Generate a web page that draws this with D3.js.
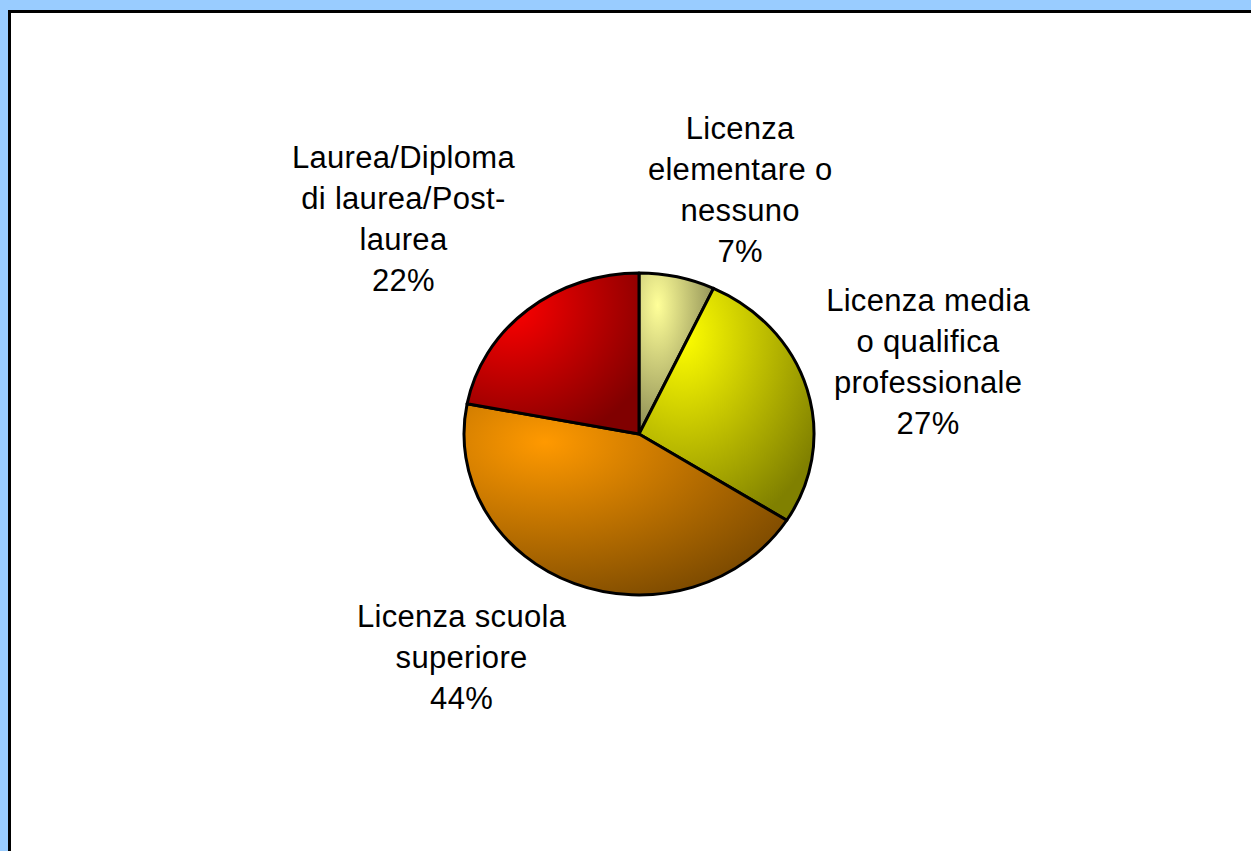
<!DOCTYPE html>
<html>
<head>
<meta charset="utf-8">
<script src="https://cdn.jsdelivr.net/npm/d3@7"></script>
<style>
  body { margin: 0; background: #99ccff; overflow: hidden; }
</style>
</head>
<body>
<div id="chart"></div>
<script>
// slices, clockwise from 12 o'clock
var categories = ['Licenza elementare o nessuno', 'Licenza media o qualifica professionale',
                  'Licenza scuola superiore', 'Laurea/Diploma di laurea/Post-laurea'];
var values = [7, 27, 44, 22];
var labelLines = [
    ['Licenza', 'elementare o', 'nessuno'],
    ['Licenza media', 'o qualifica', 'professionale'],
    ['Licenza scuola', 'superiore'],
    ['Laurea/Diploma', 'di laurea/Post-', 'laurea']
];
var lightColours = ['#ffff99', '#ffff00', '#ff9900', '#ff0000'];
var darkColours  = ['#80804c', '#808000', '#7c4a00', '#800000'];

var width = 1251, height = 851;
var cx = 639, cy = 434, rx = 175, ry = 161;
var lineH = 41;
// hand placed offsets of the labels from the slice edge (excel "best fit")
var labelNudge = [[63, -76], [121, -17], [-113, 84], [-124, -80]];

var svg = d3.select("#chart")
    .append("svg")
    .attr("width", width)
    .attr("height", height);

// white plot area with black frame running off right/bottom
svg.append("rect")
    .attr("x", 9.5)
    .attr("y", 11.5)
    .attr("width", 1400)
    .attr("height", 1000)
    .style("fill", "#fff")
    .style("stroke", "#000")
    .style("stroke-width", 3);

var defs = svg.append("defs");
values.forEach(function(v, i){
    var g = defs.append("radialGradient")
        .attr("id", "grad" + i)
        .attr("cx", 0.25).attr("cy", 0.2)
        .attr("fx", 0.25).attr("fy", 0.2)
        .attr("r", 0.9);
    g.append("stop").attr("offset", "0%").attr("stop-color", lightColours[i]);
    g.append("stop").attr("offset", "100%").attr("stop-color", darkColours[i]);
});

var pie = d3.pie().sort(null).value(function(d){ return d; });
var arcs = pie(values);
var total = d3.sum(values);
var fmt = d3.format(".0%");

var arc = d3.arc().innerRadius(0).outerRadius(ry);

var pieG = svg.append("g")
    .attr("transform", "translate(" + cx + "," + cy + ") scale(" + (rx / ry) + ",1)");

pieG.selectAll(".slice")
    .data(arcs)
    .enter()
    .append("path")
    .attr("class", "slice")
    .attr("d", arc)
    .attr("vector-effect", "non-scaling-stroke")
    .style("fill", function(d, i){ return "url(#grad" + i + ")"; })
    .style("stroke", "#000")
    .style("stroke-width", 3)
    .style("stroke-linejoin", "round");

var labels = svg.selectAll(".lbl")
    .data(arcs)
    .enter()
    .append("text")
    .attr("class", "lbl")
    .attr("text-anchor", "middle")
    .style("font-family", "'Liberation Sans', Arial, sans-serif")
    .style("font-size", "31px")
    .style("letter-spacing", "0.3px")
    .style("fill", "#000");

labels.each(function(d, i){
    var mid = (d.startAngle + d.endAngle) / 2;
    var x = cx + rx * Math.sin(mid) + labelNudge[i][0];
    var y = cy - ry * Math.cos(mid) + labelNudge[i][1];
    var lines = labelLines[i].concat([fmt(d.value / total)]);
    var top = y - (lines.length - 1) * lineH / 2;
    d3.select(this).selectAll("tspan")
        .data(lines)
        .enter()
        .append("tspan")
        .attr("x", x)
        .attr("y", function(t, j){ return top + j * lineH; })
        .text(function(t){ return t; });
});
</script>
</body>
</html>
